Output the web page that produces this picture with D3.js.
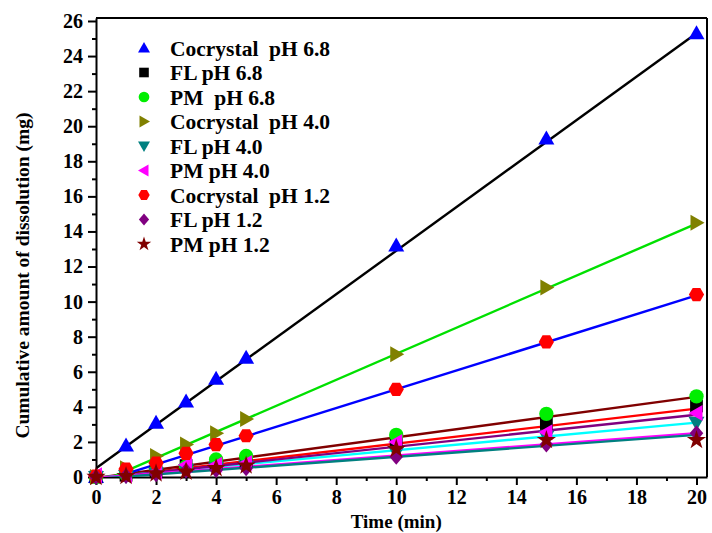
<!DOCTYPE html>
<html>
<head>
<meta charset="utf-8">
<script src="https://cdn.jsdelivr.net/npm/d3@7"></script>
<style>
  body { margin: 0; background: #fff; }
  text { font-family: "Liberation Serif", "Times New Roman", serif; font-weight: bold; }
</style>
</head>
<body>
<div id="chart"></div>
<script>
// Sampling times (min)
const timePoints = [0, 1, 2, 3, 4, 5, 10, 15, 20];

// Cumulative amount dissolved (mg), one array per series
const cocrystal68 = [0, 1.8, 3.1, 4.3, 5.6, 6.8, 13.2, 19.3, 25.3];
const fl68        = [0, 0.1, 0.3, 0.65, 0.75, 0.9, 2.0, 3.05, 4.05];
const pm68        = [0, 0.15, 0.35, 0.6, 1.0, 1.2, 2.4, 3.6, 4.6];
const cocrystal40 = [0, 0.5, 1.2, 1.85, 2.5, 3.3, 7.0, 10.8, 14.5];
const fl40        = [0, 0.05, 0.2, 0.4, 0.5, 0.6, 1.4, 2.3, 3.1];
const pm40        = [0.1, 0.1, 0.3, 0.7, 0.7, 0.8, 2.0, 2.55, 3.65];
const cocrystal12 = [0.05, 0.45, 0.8, 1.35, 1.85, 2.35, 5.0, 7.7, 10.4];
const fl12        = [0, 0.05, 0.15, 0.35, 0.4, 0.5, 1.15, 1.85, 2.5];
const pm12        = [0, 0.05, 0.2, 0.3, 0.5, 0.65, 1.6, 2.1, 2.1];

const seriesNames = ["Cocrystal  pH 6.8", "FL pH 6.8", "PM  pH 6.8",
                     "Cocrystal  pH 4.0", "FL pH 4.0", "PM pH 4.0",
                     "Cocrystal  pH 1.2", "FL pH 1.2", "PM pH 1.2"];
const seriesValues = [cocrystal68, fl68, pm68, cocrystal40, fl40, pm40, cocrystal12, fl12, pm12];

// Linear fit lines: value at t=0 and at t=20
const fitStart = [0.5, -0.1, -0.05, -0.4, -0.05, -0.1, -0.35, -0.05, -0.1];
const fitEnd   = [25.3, 3.9, 4.57, 14.45, 3.1, 3.55, 10.35, 2.5, 2.4];

const markerColors = ["#0000ff", "#000000", "#00ee00", "#808000", "#008080", "#ff00ff", "#ff0000", "#800080", "#800000"];
const lineColors   = ["#000000", "#ff0000", "#800000", "#00e000", "#00ffff", "#800080", "#0000ff", "#ff00ff", "#008080"];
const markerShapes = ["up", "square", "circle", "right", "down", "left", "hexagon", "diamond", "star"];

const xTicks = d3.range(0, 21, 2);
const yTicks = d3.range(0, 27, 2);

const margin = { top: 18, right: 5, bottom: 56, left: 96 },
      width  = 712 - margin.left - margin.right,
      height = 533 - margin.top - margin.bottom;

const svg = d3.select("#chart")
  .append("svg")
  .attr("width",  712)
  .attr("height", 533)
  .append("g")
  .attr("transform", `translate(${margin.left}, ${margin.top})`);

const xScale = d3.scaleLinear().domain([0, 20.35]).range([0, width]);
const yScale = d3.scaleLinear().domain([0, 26.17]).range([height, 0]);

svg.append("clipPath").attr("id", "plotClip")
  .append("rect").attr("width", width).attr("height", height);

// minor ticks
svg.append("g")
  .attr("transform", `translate(0, ${height})`)
  .call(d3.axisBottom(xScale).tickValues(d3.range(1, 20, 2)).tickSize(4).tickFormat(""))
  .call(g => g.select(".domain").remove())
  .call(g => g.selectAll("line").attr("stroke-width", 2));
svg.append("g")
  .call(d3.axisLeft(yScale).tickValues(d3.range(1, 26, 2)).tickSize(4).tickFormat(""))
  .call(g => g.select(".domain").remove())
  .call(g => g.selectAll("line").attr("stroke-width", 2));

// major axes
svg.append("g")
  .attr("transform", `translate(0, ${height})`)
  .call(d3.axisBottom(xScale).tickValues(xTicks).tickSize(8).tickSizeOuter(0).tickPadding(5))
  .call(g => g.select(".domain").attr("stroke-width", 2))
  .call(g => g.selectAll("line").attr("stroke-width", 2))
  .call(g => g.selectAll("text").attr("font-size", 20).attr("fill", "#000")
    .style("font-family", "Liberation Serif").style("font-weight", "bold"));

svg.append("g")
  .call(d3.axisLeft(yScale).tickValues(yTicks).tickSize(8).tickSizeOuter(0).tickPadding(5))
  .call(g => g.select(".domain").attr("stroke-width", 2))
  .call(g => g.selectAll("line").attr("stroke-width", 2))
  .call(g => g.selectAll("text").attr("font-size", 20).attr("fill", "#000")
    .style("font-family", "Liberation Serif").style("font-weight", "bold"));

// top and right frame
svg.append("line").attr("x1", 0).attr("x2", width).attr("y1", 0).attr("y2", 0)
  .attr("stroke", "#000").attr("stroke-width", 2);
svg.append("line").attr("x1", width).attr("x2", width).attr("y1", 0).attr("y2", height)
  .attr("stroke", "#000").attr("stroke-width", 2);

// axis titles
svg.append("text")
  .attr("x", xScale(10))
  .attr("y", height + 51)
  .attr("font-size", 19)
  .style("text-anchor", "middle")
  .text("Time (min)");

svg.append("text")
  .attr("transform", "rotate(-90)")
  .attr("x", -(height / 2 + 28))
  .attr("y", -margin.left + 29)
  .attr("font-size", 19.5)
  .style("text-anchor", "middle")
  .text("Cumulative amount of dissolution (mg)");

// marker path builder
function markerPath(shape, s) {
  const h = s / 2;
  switch (shape) {
    case "up":     return `M0,${-h}L${h},${h * 0.75}L${-h},${h * 0.75}Z`;
    case "down":   return `M0,${h}L${h},${-h * 0.75}L${-h},${-h * 0.75}Z`;
    case "right":  return `M${h},0L${-h * 0.75},${h}L${-h * 0.75},${-h}Z`;
    case "left":   return `M${-h},0L${h * 0.75},${h}L${h * 0.75},${-h}Z`;
    case "square": { const q = h * 0.8; return `M${-q},${-q}H${q}V${q}H${-q}Z`; }
    case "diamond": return `M0,${-h}L${h * 0.85},0L0,${h}L${-h * 0.85},0Z`;
    case "circle": return d3.symbol(d3.symbolCircle, Math.PI * h * h * 0.8)();
    case "star":   return d3.symbol(d3.symbolStar, s * s * 0.45)();
    case "hexagon": {
      const pts = d3.range(6).map(i => {
        const a = Math.PI / 3 * i;
        return [h * 0.95 * Math.cos(a), h * 0.95 * Math.sin(a)];
      });
      return "M" + pts.join("L") + "Z";
    }
  }
}

// fit lines
const plot = svg.append("g").attr("clip-path", "url(#plotClip)");
seriesValues.forEach((vals, i) => {
  plot.append("line")
    .attr("x1", xScale(0))
    .attr("y1", yScale(fitStart[i]))
    .attr("x2", xScale(20))
    .attr("y2", yScale(fitEnd[i]))
    .attr("stroke", lineColors[i])
    .attr("stroke-width", 2.4);
});

// markers
seriesValues.forEach((vals, i) => {
  svg.append("g").selectAll("path")
    .data(timePoints.map((t, k) => ({ t: t, v: vals[k] })))
    .enter()
    .append("path")
    .attr("transform", d => `translate(${xScale(d.t)}, ${yScale(d.v)})`)
    .attr("d", markerPath(markerShapes[i], 16))
    .attr("fill", markerColors[i]);
});

// legend
const legend = svg.append("g");
seriesNames.forEach((name, i) => {
  const yy = 30 + i * 24.5;
  legend.append("path")
    .attr("transform", `translate(${48}, ${yy})`)
    .attr("d", markerPath(markerShapes[i], 12))
    .attr("fill", markerColors[i]);
  legend.append("text")
    .attr("x", 74)
    .attr("y", yy)
    .attr("dy", "0.35em")
    .attr("font-size", 21.5)
    .style("white-space", "pre")
    .attr("xml:space", "preserve")
    .text(name);
});
</script>
</body>
</html>
